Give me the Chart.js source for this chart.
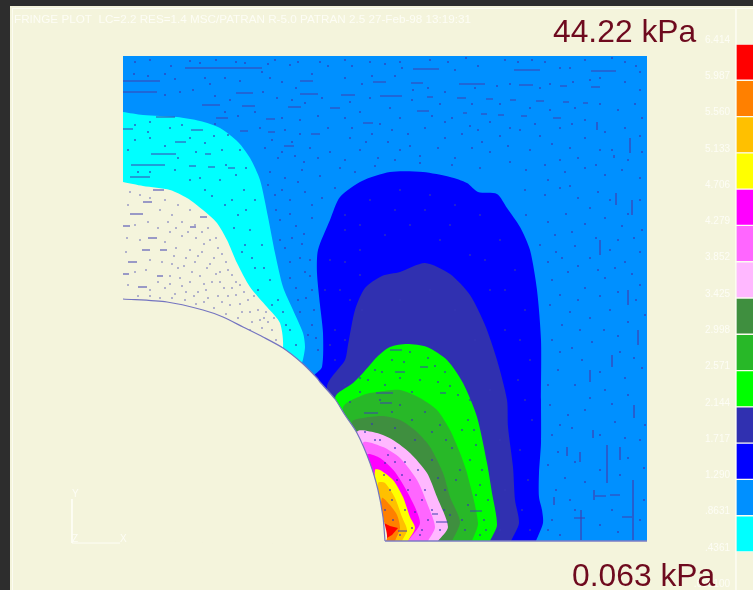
<!DOCTYPE html>
<html>
<head>
<meta charset="utf-8">
<title>Fringe plot</title>
<script src="https://cdn.jsdelivr.net/npm/chart.js@4"></script>
<style>
  html, body { margin: 0; padding: 0; background: #2d2d2d; overflow: hidden; }
  #frame { position: absolute; left: 10px; top: 6px; right: 0; bottom: 0; background: #f4f4dc; }
  #inner { position: absolute; left: 2px; top: 2px; right: 0; bottom: 0; border-left: 1px solid #fcfcf2; border-top: 1px solid #fcfcf2; }
  #myChart { position: absolute; left: 0; top: 0; }
</style>
</head>
<body>
<div id="frame"><div id="inner"></div></div>
<canvas id="myChart" width="753" height="590"></canvas>
<script>
'use strict';

// fringe levels, top of the colour bar first
const levelValues = [6.414, 5.987, 5.560, 5.133, 4.706, 4.279, 3.852, 3.425, 2.998, 2.571, 2.144, 1.717, 1.290, 0.8631, 0.4361, 0.0091];
const levelLabels = ['6.414', '5.987', '5.560', '5.133', '4.706', '4.279', '3.852', '3.425', '2.998', '2.571', '2.144', '1.717', '1.290', '.8631', '.4361', '.009100'];
const levelColors = ['#ff0000', '#ff8000', '#ffc000', '#ffff00', '#ff00ff', '#ff66ff', '#ffb8ff', '#3f8f3f', '#28b828', '#00ff00', '#3030b0', '#0000ff', '#0090ff', '#00ffff'];

// fringe outlines in picture units
const plotBox = [[123, 56], [647, 56], [647, 541], [123, 541]];
const cyanZone = [[123, 112], [143, 115], [177, 117], [200, 121], [220, 128], [238, 142], [250, 158], [260, 180], [268, 217], [275, 253], [283, 287], [293, 310], [303, 333], [305, 347], [302, 363], [280, 420], [123, 420]];
const creamZone = [[123, 182], [143, 186], [170, 190], [187, 198], [203, 210], [217, 223], [227, 240], [237, 263], [250, 287], [267, 307], [280, 323], [283, 348], [270, 420], [123, 420]];
const blueZone = [[536, 541], [543, 523], [542, 510], [539, 497], [539, 473], [541, 443], [541, 400], [541, 340], [537, 290], [530, 250], [520, 227], [507, 208], [497, 194], [478, 192], [467, 183], [450, 177], [423, 172], [390, 172], [362, 181], [340, 197], [330, 220], [318, 250], [317, 273], [320, 305], [323, 333], [322, 367], [313, 378], [330, 541]];
const indigoZone = [[511, 541], [519, 523], [515, 500], [513, 467], [508, 427], [507, 400], [497, 360], [485, 325], [470, 295], [450, 274], [425, 263], [400, 272], [382, 276], [365, 288], [355, 310], [348, 345], [345, 360], [327, 387], [340, 541]];
const limeZone = [[490, 541], [497, 525], [492, 493], [487, 463], [477, 417], [463, 383], [447, 360], [427, 347], [407, 344], [390, 347], [377, 357], [363, 373], [353, 383], [335, 398], [350, 541]];
const greenZone = [[472, 541], [478, 523], [467, 473], [460, 453], [450, 430], [437, 410], [420, 398], [400, 390], [377, 392], [363, 395], [343, 408], [355, 541]];
const darkGreenZone = [[452, 541], [460, 522], [450, 497], [443, 473], [430, 447], [417, 432], [400, 420], [383, 416], [363, 418], [352, 422], [360, 541]];
const paleZone = [[438, 541], [448, 527], [437, 497], [427, 473], [410, 453], [393, 440], [377, 433], [357, 432], [365, 541]];
const pinkZone = [[428, 541], [435, 527], [427, 503], [417, 480], [400, 458], [383, 447], [363, 443], [368, 541]];
const magentaZone = [[408, 541], [420, 523], [410, 497], [395, 472], [380, 458], [367, 455], [370, 541]];
const yellowZone = [[408, 541], [415, 528], [410, 517], [403, 497], [393, 480], [380, 470], [375, 470], [372, 541]];
const goldZone = [[402, 541], [407, 530], [402, 517], [395, 498], [385, 483], [378, 483], [375, 541]];
const orangeZone = [[395, 541], [400, 528], [397, 515], [390, 505], [382, 498], [378, 541]];
const redZone = [[385, 539], [392, 535], [398, 528], [390, 526], [384, 523], [380, 530]];
const holeEdge = [[123, 299], [167, 302], [203, 310], [223, 317], [243, 327], [263, 337], [283, 348], [302, 363], [317, 378], [320, 382], [335, 399], [345, 415], [357, 433], [370, 463], [378, 490], [383, 517], [385, 541]];
const holeFill = holeEdge.concat([[123, 541]]);
const rightRule = [[736, 8], [736, 590]];
const bottomEdge = [[385, 541], [647, 541]];
const triadY = [[72, 499], [72, 543]];
const triadX = [[72, 543], [120, 543]];

// mesh traces seen as long dashes: [x0, x1, y]
const flatDashes = [
  [185, 262, 68], [123, 160, 81], [123, 157, 92], [300, 313, 81], [300, 318, 94], [236, 253, 93], [202, 220, 105], [242, 255, 106],
  [288, 301, 107], [373, 386, 82], [341, 355, 95], [380, 393, 96], [156, 175, 117], [216, 228, 118], [266, 275, 119], [123, 133, 129],
  [191, 203, 130], [175, 186, 142], [151, 176, 154], [131, 165, 165], [130, 150, 177], [205, 211, 154], [189, 196, 166], [208, 215, 167],
  [228, 235, 168], [240, 248, 131], [268, 275, 132], [311, 320, 134], [284, 294, 146], [363, 373, 123], [330, 340, 108],
  [413, 439, 69], [514, 540, 70], [591, 616, 71], [459, 485, 84], [411, 423, 83], [519, 533, 85], [560, 567, 86], [591, 600, 87],
  [390, 402, 96], [427, 433, 97], [457, 466, 98], [486, 493, 99], [510, 516, 100], [536, 544, 101], [563, 569, 102], [583, 588, 103],
  [417, 429, 111], [463, 467, 113], [481, 487, 114], [498, 504, 115], [521, 527, 116], [553, 561, 118],
  [130, 143, 214], [123, 130, 226], [142, 150, 250], [128, 137, 262], [123, 129, 274], [148, 157, 238], [153, 164, 190], [143, 152, 202],
  [157, 163, 276], [138, 147, 287], [190, 196, 227], [160, 167, 250], [200, 207, 217],
  [376, 393, 393], [380, 392, 403], [364, 378, 413], [390, 402, 350], [420, 428, 367], [395, 405, 372], [440, 446, 393],
  [436, 448, 522], [398, 407, 531], [470, 482, 511], [432, 438, 514], [595, 606, 496], [610, 620, 495], [574, 585, 518], [622, 632, 517]
];
// the same, upright: [x, y0, y1]
const tallDashes = [
  [607, 445, 483], [620, 447, 460], [633, 480, 540], [593, 430, 438], [580, 452, 462], [567, 447, 456], [581, 510, 540], [554, 497, 505],
  [594, 490, 500], [630, 138, 153], [614, 155, 158], [597, 122, 130], [616, 193, 205], [632, 200, 215], [638, 330, 345], [628, 290, 305],
  [600, 240, 255], [590, 370, 382], [612, 355, 367], [634, 405, 418]
];

// single mesh nodes on the coloured fringes
const meshDots = [
  [135, 62], [150, 60], [171, 66], [190, 61], [200, 63], [216, 60], [236, 62], [245, 63], [268, 64], [275, 60], [290, 65], [298, 62],
  [320, 62], [328, 66], [345, 60], [352, 66], [370, 62], [385, 64], [400, 62], [402, 68], [430, 60], [448, 62], [455, 70], [466, 58],
  [478, 66], [505, 60], [518, 62], [532, 60], [545, 62], [560, 68], [570, 68], [585, 60], [612, 58], [625, 62], [636, 66], [640, 72],
  [134, 74], [148, 76], [165, 74], [175, 79], [205, 78], [210, 84], [225, 78], [240, 81], [262, 72], [270, 78], [282, 82], [296, 88],
  [312, 74], [345, 78], [362, 84], [372, 76], [395, 76], [413, 90], [428, 88], [445, 92], [475, 88], [497, 86], [510, 84], [540, 88],
  [550, 84], [573, 82], [590, 80], [600, 78], [625, 82], [640, 90], [165, 95], [180, 92], [193, 90], [215, 96], [230, 100], [263, 92],
  [277, 98], [292, 100], [305, 103], [322, 98], [350, 102], [370, 98], [390, 108], [412, 100], [440, 104], [472, 104], [500, 104],
  [530, 108], [550, 110], [575, 108], [600, 104], [618, 110], [635, 104], [642, 118], [225, 112], [238, 116], [255, 112], [282, 118],
  [300, 120], [318, 116], [345, 118], [360, 112], [380, 124], [400, 118], [445, 122], [470, 126], [490, 122], [510, 128], [535, 124],
  [572, 124], [585, 120], [605, 132], [625, 128], [640, 136], [260, 128], [285, 130], [300, 134], [328, 128], [350, 138], [372, 134],
  [392, 130], [408, 134], [425, 128], [445, 138], [462, 134], [478, 130], [500, 136], [520, 130], [540, 136], [560, 128], [585, 138],
  [265, 148], [278, 158], [295, 156], [310, 148], [330, 152], [345, 160], [360, 150], [378, 158], [400, 150], [420, 156], [438, 148],
  [455, 158], [472, 148], [490, 152], [508, 146], [530, 150], [552, 144], [570, 148], [600, 150], [642, 152], [270, 172], [285, 178],
  [302, 170], [320, 176], [340, 168], [355, 172], [375, 166], [395, 160], [420, 163], [452, 165], [480, 168], [510, 162], [526, 170],
  [545, 165], [565, 172], [585, 168], [605, 175], [622, 170], [640, 178], [275, 195], [290, 200], [305, 192], [322, 198], [335, 188],
  [525, 190], [545, 195], [560, 188], [578, 198], [598, 192], [640, 200], [280, 220], [296, 226], [312, 218], [526, 215], [548, 222],
  [566, 214], [585, 224], [605, 218], [622, 226], [642, 230], [285, 248], [302, 244], [310, 260], [540, 245], [556, 252], [575, 246],
  [590, 258], [610, 250], [625, 262], [640, 252], [290, 278], [305, 272], [312, 290], [552, 280], [568, 272], [585, 288], [605, 278],
  [640, 285], [298, 300], [314, 310], [308, 335], [318, 350], [550, 305], [570, 312], [590, 318], [610, 310], [628, 322], [645, 315],
  [552, 340], [572, 348], [592, 342], [620, 352], [558, 370], [575, 385], [605, 390], [625, 378], [642, 368], [550, 405], [568, 415],
  [585, 410], [615, 422], [552, 435], [572, 428], [640, 440], [548, 465], [565, 478], [585, 482], [620, 475], [644, 468], [552, 520],
  [570, 500], [600, 525], [618, 532], [560, 535], [644, 500], [548, 530],
  [135, 125], [150, 122], [170, 128], [182, 125], [215, 124], [228, 135], [240, 150], [135, 140], [150, 138], [165, 146], [205, 143],
  [222, 150], [246, 168], [138, 172], [175, 170], [200, 178], [220, 180], [244, 190], [255, 200], [205, 190], [225, 205], [238, 215],
  [250, 230], [262, 245], [245, 245], [255, 268], [270, 280], [278, 300], [290, 330], [296, 345], [283, 312],
  [345, 385], [360, 378], [375, 370], [392, 360], [410, 352], [428, 358], [445, 372], [420, 380], [400, 378], [385, 385], [360, 392],
  [458, 395], [468, 420], [476, 445], [482, 470], [488, 500], [480, 535], [470, 400], [462, 430], [470, 460], [476, 495], [484, 520],
  [380, 400], [400, 405], [425, 412], [440, 425], [452, 448], [460, 470], [468, 505], [465, 530], [372, 424], [395, 428], [415, 440],
  [432, 460], [445, 490], [450, 515], [380, 440], [395, 448], [405, 462], [418, 470], [425, 490], [432, 510], [440, 530], [422, 530],
  [385, 463], [397, 480], [408, 490], [415, 512], [420, 535], [405, 510], [390, 490], [385, 510], [393, 520], [380, 505], [400, 535],
  [330, 260], [345, 230], [370, 200], [400, 190], [430, 195], [455, 205], [480, 215], [500, 240], [515, 270], [525, 310], [530, 360],
  [532, 420], [528, 480], [530, 530], [340, 290], [335, 330], [335, 360], [360, 250], [385, 235], [410, 225], [440, 240], [470, 255],
  [490, 290], [505, 330], [518, 380],
  [272, 140], [282, 152], [292, 142], [304, 162], [318, 158], [268, 185], [282, 190], [298, 182], [312, 205], [276, 210], [290, 214],
  [304, 234], [292, 238], [280, 240], [300, 258], [290, 262], [296, 288], [310, 276], [306, 298], [300, 312], [312, 325], [316, 338],
  [352, 128], [366, 142], [388, 142], [410, 146], [432, 116], [452, 118], [482, 142], [560, 160], [578, 158], [596, 165], [612, 150],
  [628, 160], [548, 180], [570, 186], [590, 208], [610, 200], [628, 214], [555, 235], [572, 232], [596, 238], [618, 240], [634, 238],
  [548, 262], [562, 258], [578, 266], [598, 270], [615, 268], [632, 274], [560, 295], [578, 300], [600, 296], [618, 292], [636, 300],
  [562, 325], [580, 330], [604, 330], [618, 336], [560, 352], [582, 360], [600, 372], [634, 358], [548, 385], [590, 398], [612, 404],
  [628, 395], [560, 425], [600, 435], [625, 438], [645, 425], [558, 452], [575, 462], [600, 470], [628, 458], [556, 490], [575, 510],
  [612, 510], [640, 520], [148, 132], [190, 138], [214, 136], [128, 150], [178, 158], [196, 152], [226, 165], [236, 175], [150, 172],
  [190, 180], [212, 196], [232, 200], [246, 210], [234, 228], [242, 252], [252, 258], [264, 268], [258, 290], [272, 305], [286, 325],
  [368, 380], [382, 372], [404, 362], [435, 366], [450, 386], [438, 382], [412, 392], [350, 402], [392, 412], [412, 420], [432, 432],
  [446, 440], [456, 480], [462, 520], [474, 430], [480, 485], [486, 530], [438, 478], [444, 510], [410, 480], [422, 500], [428, 520],
  [395, 462], [388, 455], [402, 475], [375, 440], [365, 432], [412, 528], [392, 500], [384, 475],
  [350, 300], [362, 310], [345, 340], [400, 300], [430, 290], [455, 310], [475, 340], [490, 390], [500, 440], [505, 490], [500, 530],
  [330, 345], [345, 215], [325, 290], [360, 225], [395, 210], [425, 210], [450, 225], [485, 260], [505, 290], [520, 340], [525, 400],
  [520, 450], [522, 510], [345, 262], [360, 275]
];
// nodes on the lowest fringe show up paler
const creamDots = [
  [130, 192], [140, 195], [150, 198], [165, 200], [178, 205], [190, 210], [128, 205], [160, 210], [172, 215], [182, 222], [195, 225],
  [208, 228], [135, 225], [148, 222], [158, 228], [170, 232], [182, 236], [196, 238], [210, 240], [218, 248], [127, 238], [140, 240],
  [165, 242], [176, 248], [190, 250], [202, 252], [214, 258], [226, 262], [126, 252], [150, 260], [162, 262], [172, 264], [184, 266],
  [195, 262], [207, 268], [220, 272], [232, 275], [240, 285], [135, 272], [146, 270], [170, 276], [180, 278], [190, 282], [200, 276],
  [212, 282], [224, 288], [236, 295], [248, 300], [258, 310], [128, 285], [150, 290], [165, 288], [175, 294], [186, 292], [198, 292],
  [208, 298], [218, 296], [230, 305], [242, 312], [252, 322], [264, 318], [272, 330], [276, 340], [160, 298], [185, 300], [196, 304],
  [214, 308], [226, 314], [238, 318], [250, 330], [262, 328],
  [168, 222], [176, 228], [188, 232], [202, 232], [204, 244], [216, 238], [222, 254], [174, 256], [186, 258], [198, 256], [210, 264],
  [220, 282], [228, 270], [236, 282], [178, 268], [192, 272], [204, 284], [216, 274], [182, 286], [194, 296], [206, 290], [170, 284],
  [158, 282], [228, 296], [240, 304], [250, 312], [260, 320], [268, 322], [244, 292], [254, 296], [266, 312], [274, 318], [232, 288],
  [222, 302], [204, 302], [172, 298], [150, 296], [138, 296]
];

// [x, y] pairs to the {x, y} points that the scatter type reads
function toPoints(pairs) {
  const points = [];
  for (let i = 0; i < pairs.length; i++) {
    points.push({ x: pairs[i][0], y: pairs[i][1] });
  }
  return points;
}

function zoneDataset(pairs, color, tension) {
  return {
    type: 'scatter',
    data: toPoints(pairs),
    showLine: true,
    fill: 'shape',
    backgroundColor: color,
    borderColor: color,
    borderWidth: 0,
    tension: tension === undefined ? 0.25 : tension,
    pointRadius: 0,
  };
}

function strokeDataset(pairs, color, width, tension) {
  return {
    type: 'scatter',
    data: toPoints(pairs),
    showLine: true,
    fill: false,
    borderColor: color,
    borderWidth: width,
    tension: tension || 0,
    pointRadius: 0,
  };
}

function dotDataset(pairs, color) {
  return {
    type: 'scatter',
    data: toPoints(pairs),
    showLine: false,
    backgroundColor: color,
    borderWidth: 0,
    pointStyle: 'rect',
    pointRadius: 1.1,
  };
}

// one broken line through all dashes, null points make the gaps
function dashDataset(color) {
  const points = [];
  for (let i = 0; i < flatDashes.length; i++) {
    const d = flatDashes[i];
    points.push({ x: d[0], y: d[2] }, { x: d[1], y: d[2] }, { x: null, y: null });
  }
  for (let i = 0; i < tallDashes.length; i++) {
    const d = tallDashes[i];
    points.push({ x: d[0], y: d[1] }, { x: d[0], y: d[2] }, { x: null, y: null });
  }
  return {
    type: 'scatter',
    data: points,
    showLine: true,
    spanGaps: false,
    fill: false,
    borderColor: color,
    borderWidth: 1.2,
    pointRadius: 0,
  };
}

// colour bar, one floating bar per fringe band
const barPoints = [];
for (let i = 0; i < levelColors.length; i++) {
  barPoints.push({ x: 745, y: [levelValues[i + 1], levelValues[i]] });
}

// paint order bottom to top; the library draws the first dataset last
const paintOrder = [
  zoneDataset(plotBox, levelColors[12], 0),
  zoneDataset(cyanZone, levelColors[13]),
  zoneDataset(creamZone, '#f4f4dc'),
  zoneDataset(blueZone, levelColors[11]),
  zoneDataset(indigoZone, levelColors[10]),
  zoneDataset(limeZone, levelColors[9]),
  zoneDataset(greenZone, levelColors[8]),
  zoneDataset(darkGreenZone, levelColors[7]),
  zoneDataset(paleZone, levelColors[6]),
  zoneDataset(pinkZone, levelColors[5]),
  zoneDataset(magentaZone, levelColors[4]),
  zoneDataset(yellowZone, levelColors[3]),
  zoneDataset(goldZone, levelColors[2]),
  zoneDataset(orangeZone, levelColors[1]),
  zoneDataset(redZone, levelColors[0], 0),
  dotDataset(meshDots, '#3636b4'),
  dotDataset(creamDots, '#8484c0'),
  dashDataset('#3f3fb0'),
  zoneDataset(holeFill, '#f4f4dc'),
  strokeDataset(holeEdge, '#7474c0', 1.2, 0.25),
  strokeDataset(bottomEdge, '#7c7cc4', 1.5),
  strokeDataset(rightRule, '#fbfbf0', 1),
  strokeDataset(triadY, '#fdfdf5', 1),
  strokeDataset(triadX, '#fdfdf5', 1),
].reverse();

paintOrder.unshift({
  type: 'bar',
  data: barPoints,
  xAxisID: 'x',
  yAxisID: 'levels',
  barThickness: 18,
  backgroundColor: levelColors,
  borderColor: '#fbfbf0',
  borderWidth: 1,
  borderSkipped: false,
});

const captions = [
  { text: 'FRINGE PLOT  LC=2.2 RES=1.4 MSC/PATRAN R-5.0 PATRAN 2.5 27-Feb-98 13:19:31', x: 14, y: 20, font: '11.7px "Liberation Sans"', color: '#fdfdf5' },
  { text: '44.22 kPa', x: 553, y: 33, font: '31.8px "Liberation Sans"', color: '#6e0a1e' },
  { text: '0.063 kPa', x: 572, y: 577, font: '31.8px "Liberation Sans"', color: '#6e0a1e' },
  { text: 'Y', x: 72, y: 494, font: '10px "Liberation Sans"', color: '#fdfdf5' },
  { text: 'Z', x: 72, y: 539, font: '10px "Liberation Sans"', color: '#fdfdf5' },
  { text: 'X', x: 120, y: 539, font: '10px "Liberation Sans"', color: '#fdfdf5' },
];

const captionPlugin = {
  id: 'captions',
  afterDatasetsDraw(chart) {
    const ctx = chart.ctx;
    ctx.save();
    ctx.textBaseline = 'middle';
    ctx.textAlign = 'left';
    for (let i = 0; i < captions.length; i++) {
      const c = captions[i];
      ctx.font = c.font;
      ctx.fillStyle = c.color;
      ctx.fillText(c.text, chart.scales.x.getPixelForValue(c.x), chart.scales.y.getPixelForValue(c.y));
    }
    ctx.restore();
  },
};

new Chart(document.getElementById('myChart'), {
  data: { datasets: paintOrder },
  plugins: [captionPlugin],
  options: {
    responsive: false,
    animation: false,
    layout: { padding: 0, autoPadding: false },
    plugins: { legend: { display: false }, tooltip: { enabled: false } },
    scales: {
      x: { type: 'linear', display: false, offset: false, min: 0, max: 753 },
      y: { type: 'linear', display: false, min: 0, max: 590, reverse: true },
      levels: {
        type: 'linear',
        position: 'right',
        min: -0.011,
        max: 6.9318,
        grid: { display: false, drawTicks: false },
        border: { display: false },
        afterBuildTicks(scale) {
          scale.ticks = levelValues.map((v) => ({ value: v }));
        },
        afterFit(scale) {
          scale.paddingTop = 0;
          scale.paddingBottom = 0;
          scale.width = 0;
        },
        ticks: {
          mirror: true,
          padding: -23,
          labelOffset: -4,
          autoSkip: false,
          color: '#fdfdf5',
          font: { family: 'Liberation Sans', size: 10 },
          callback(value) {
            return levelLabels[levelValues.indexOf(value)];
          },
        },
      },
    },
  },
});
</script>
</body>
</html>
